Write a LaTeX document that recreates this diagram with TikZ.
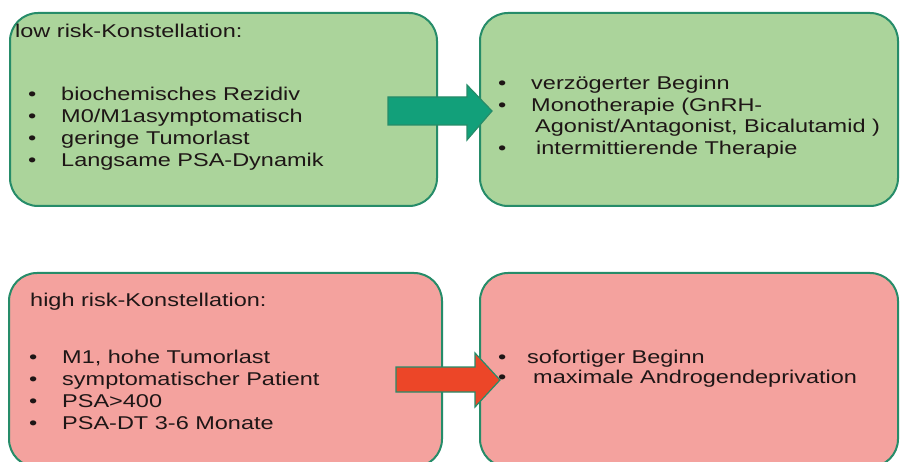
\documentclass[tikz,border=0pt]{standalone}
\usepackage{fontspec}
\setmainfont{Liberation Sans}
\newfontfamily\boxfont{Liberation Sans}[FakeStretch=1.27]

\definecolor{lowfill}{RGB}{171,212,155}
\definecolor{highfill}{RGB}{244,162,158}
\definecolor{boxline}{RGB}{38,140,105}
\definecolor{lowarrow}{RGB}{18,160,122}
\definecolor{higharrow}{RGB}{236,70,40}
\definecolor{boxtext}{RGB}{30,22,22}

\tikzset{
  riskbox/.style={draw=boxline, line width=2pt, rounded corners=28pt, inner sep=0pt},
  boxtxt/.style={anchor=base west, inner sep=0pt, text=boxtext,
    font=\boxfont\fontsize{18.5}{22}\selectfont},
  blockarrow/.style={draw=boxline, line width=1.2pt, line join=miter},
}
\newcommand{\bulletitem}[1]{\makebox[33pt][l]{\textbullet}#1}

\begin{document}
\begin{tikzpicture}[x=1pt,y=-1pt]
  \useasboundingbox (0,0) rectangle (902,462);
  \clip (0,0) rectangle (902,462);
  \fill[white] (0,0) rectangle (902,462);

  \node[riskbox, fill=lowfill, minimum width=427pt, minimum height=193pt] (lowbox) at (223.5,109.5) {};
  \node[riskbox, fill=lowfill, minimum width=418pt, minimum height=193pt] (lowther) at (689,109.5) {};
  \node[riskbox, fill=highfill, minimum width=433pt, minimum height=194pt] (highbox) at (225.5,370) {};
  \node[riskbox, fill=highfill, minimum width=418pt, minimum height=194pt] (highther) at (689,370) {};

  \coordinate (lowtip) at (492,111);
  \coordinate (hightip) at (500,380);
  \draw[blockarrow, fill=lowarrow] (lowtip) -- ++(-25,-26) -- ++(0,12) -- ++(-79,0)
    -- ++(0,28) -- ++(79,0) -- ++(0,15) -- cycle;
  \draw[blockarrow, fill=higharrow] (hightip) -- ++(-25,-27) -- ++(0,14) -- ++(-79,0)
    -- ++(0,25) -- ++(79,0) -- ++(0,15) -- cycle;

  \node[boxtxt] (lowhead) at (15,38) {low risk-Konstellation:};
  \foreach \txt [count=\i] in {biochemisches Rezidiv, M0/M1asymptomatisch,
      geringe Tumorlast, Langsame PSA-Dynamik}
    \node[boxtxt] (low\i) at (28,{101+22*(\i-1)}) {\bulletitem{\txt}};

  \node[boxtxt] (lowt1) at (498,90) {\bulletitem{verzögerter Beginn}};
  \node[boxtxt] (lowt2) at (498,112) {\bulletitem{Monotherapie (GnRH-}};
  \node[boxtxt] (lowt3) at (535,133) {Agonist/Antagonist, Bicalutamid )};
  \node[boxtxt] (lowt4) at (498,155) {\bulletitem{\hspace{5pt}intermittierende Therapie}};

  \node[boxtxt] (highhead) at (30,307) {high risk-Konstellation:};
  \foreach \txt [count=\i] in {{M1, hohe Tumorlast}, symptomatischer Patient,
      PSA>400, PSA-DT 3-6 Monate}
    \node[boxtxt] (high\i) at (29,{363+22.3*(\i-1)}) {\bulletitem{\txt}};

  \node[boxtxt] (hight1) at (498,363) {\makebox[29pt][l]{\textbullet}sofortiger Beginn};
  \node[boxtxt] (hight2) at (498,383) {\makebox[35pt][l]{\textbullet}maximale Androgendeprivation};
\end{tikzpicture}
\end{document}
